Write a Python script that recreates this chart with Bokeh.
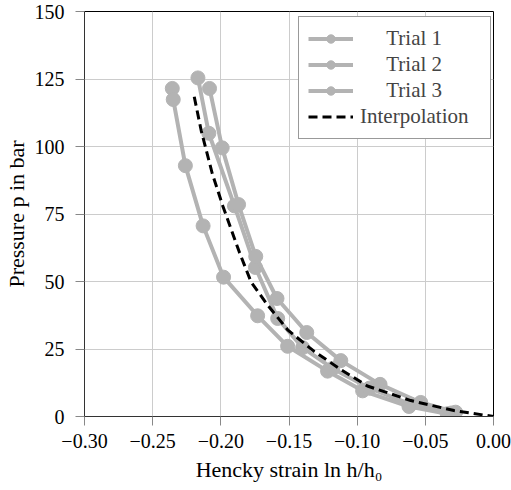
from bokeh.plotting import figure
from bokeh.models import Range1d, FixedTicker, CustomJSTickFormatter, Legend, LegendItem
from bokeh.embed import file_html
from bokeh.resources import INLINE

# Data
trial1_x = [-0.2356, -0.2349, -0.226, -0.213, -0.198, -0.173, -0.151, -0.1217, -0.096, -0.062, -0.034]
trial1_p = [121.5, 117.4, 92.9, 70.6, 51.6, 37.3, 26.0, 16.8, 9.5, 3.7, 1.0]

trial2_x = [-0.2168, -0.2088, -0.190, -0.1746, -0.1583, -0.140, -0.118, -0.091, -0.061, -0.031]
trial2_p = [125.4, 104.9, 78.0, 55.2, 36.3, 25.5, 17.8, 10.5, 4.6, 1.3]

trial3_x = [-0.2083, -0.199, -0.187, -0.1744, -0.1588, -0.137, -0.112, -0.0832, -0.0534, -0.0278]
trial3_p = [121.5, 99.5, 78.5, 59.3, 43.7, 31.1, 20.7, 11.9, 5.2, 1.6]

interp_x = [-0.2195, -0.2144, -0.2063, -0.1985, -0.1863, -0.1778, -0.1656, -0.151, -0.1315, -0.112, -0.0925, -0.0607, -0.029, 0.0]
interp_p = [118.4, 105.9, 90.0, 77.9, 60.7, 49.8, 41.2, 32.1, 24.1, 17.4, 11.3, 5.9, 2.2, 0.0]

x_ticks = [-0.30, -0.25, -0.20, -0.15, -0.10, -0.05, 0.00]
y_ticks = [0, 25, 50, 75, 100, 125, 150]

FONT = "Liberation Serif"
TICK_FS = "20px"
LABEL_FS = "22px"
LEG_FS = "21px"
GRAY = "#b3b3b3"

p = figure(width=511, height=490, output_backend="svg", toolbar_location=None,
           x_range=Range1d(-0.30, 0.0), y_range=Range1d(0, 150),
           min_border_left=83, min_border_right=18, min_border_top=11, min_border_bottom=74)

p.outline_line_color = "black"
p.outline_line_width = 1
p.background_fill_color = "white"
p.border_fill_color = "white"

for g in (p.xgrid[0], p.ygrid[0]):
    g.grid_line_color = "#cccccc"
    g.grid_line_width = 1

p.xaxis.ticker = FixedTicker(ticks=x_ticks)
p.yaxis.ticker = FixedTicker(ticks=y_ticks)
p.xgrid.ticker = FixedTicker(ticks=x_ticks)
p.ygrid.ticker = FixedTicker(ticks=y_ticks)
p.xaxis.formatter = CustomJSTickFormatter(code="""
    const s = Math.abs(tick).toFixed(2);
    return (tick < -1e-9 ? '\\u2212' : '') + s;
""")

for ax in (p.xaxis[0], p.yaxis[0]):
    ax.axis_line_color = "#333333"
    ax.major_tick_line_color = "#888888"
    ax.major_tick_out = 9
    ax.major_tick_in = 0
    ax.minor_tick_line_color = None
    ax.major_label_text_font = FONT
    ax.major_label_text_font_size = TICK_FS
    ax.major_label_text_font_style = "normal"
    ax.major_label_text_color = "black"
    ax.axis_label_text_font = FONT
    ax.axis_label_text_font_size = LABEL_FS
    ax.axis_label_text_font_style = "normal"
    ax.axis_label_text_color = "black"

p.xaxis.major_label_standoff = 8
p.yaxis.major_label_standoff = 11
p.xaxis.axis_label = "Hencky strain ln h/h\u2080"
p.yaxis.axis_label = "Pressure p in bar"
p.xaxis.axis_label_standoff = 6
p.yaxis.axis_label_standoff = 3

items = []
for name, xs, ps in (("Trial 1", trial1_x, trial1_p),
                     ("Trial 2", trial2_x, trial2_p),
                     ("Trial 3", trial3_x, trial3_p)):
    l = p.line(xs, ps, line_color=GRAY, line_width=4)
    s = p.scatter(xs, ps, size=14, fill_color=GRAY, line_color=GRAY)
    items.append(LegendItem(label="\u00a0" * 5 + name, renderers=[l, s]))

d = p.line(interp_x, interp_p, line_color="black", line_width=3, line_dash="9 5")
items.append(LegendItem(label="Interpolation", renderers=[d]))

legend = Legend(items=items, location=(214, 277), margin=0,
                border_line_color="#333333", border_line_width=1,
                background_fill_color="white", background_fill_alpha=1,
                label_text_font=FONT, label_text_font_size=LEG_FS,
                label_text_font_style="normal",
                glyph_width=45, glyph_height=21, label_height=21, label_width=121,
                spacing=1, padding=9, label_standoff=7)
p.add_layout(legend)

open("out.html", "w").write(file_html(p, INLINE))
